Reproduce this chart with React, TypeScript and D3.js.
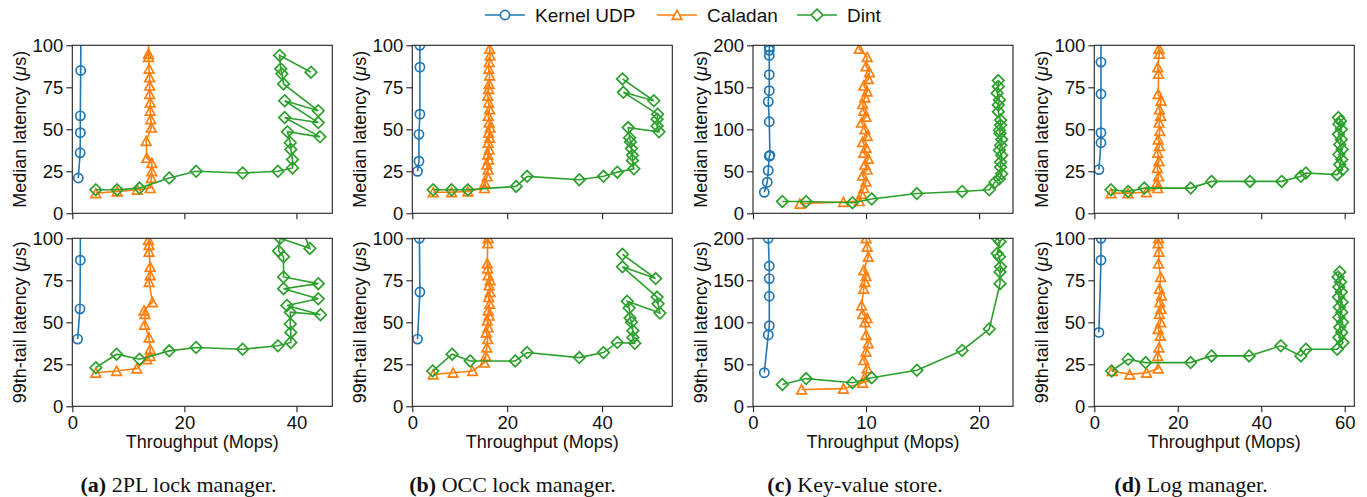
import * as d3 from "d3";
import React, { useRef, useEffect } from "react";

type Pt = [number, number];

// ---- (a) 2PL lock manager ----
const kernelMed2pl: Pt[] = [[1.07, 21], [1.4, 36], [1.43, 48], [1.43, 58], [1.5, 85], [1.55, 130]];
const caladanMed2pl: Pt[] = [[4.2, 12], [8, 13], [11.6, 14], [13.9, 15], [14.1, 21], [14.2, 25], [14.2, 30], [13.3, 33], [13.2, 43], [14.1, 51], [14, 56], [13.9, 61], [13.9, 66], [13.8, 71], [13.8, 76], [13.8, 81], [13.7, 86], [13.6, 93], [13.6, 95], [13.6, 130]];
const dintMed2pl: Pt[] = [[4.2, 14], [8, 14], [12, 15], [17.3, 21], [22.1, 25], [30.4, 24], [36.7, 25], [39.3, 27], [39.3, 32], [39, 38], [38.9, 42], [38.4, 48.5], [44.2, 45.5], [37.9, 57], [43.9, 54], [37.9, 67], [43.9, 61], [37.7, 77], [37.4, 83], [37.2, 86], [37, 94], [42.6, 84]];
const kernelTail2pl: Pt[] = [[0.95, 40], [1.37, 58], [1.43, 87], [1.45, 130]];
const caladanTail2pl: Pt[] = [[4.2, 20], [7.9, 21], [11.5, 22.5], [13.3, 28], [13.9, 30], [13.9, 34], [13.7, 41], [12.9, 48.5], [13, 55], [12.8, 57], [14.3, 62], [13.7, 74], [13.9, 78], [13.9, 83], [13.7, 92], [13.7, 96], [13.6, 99], [13.6, 130]];
const dintTail2pl: Pt[] = [[4.2, 23], [7.9, 31], [12, 28], [17.3, 33], [22.1, 35], [30.4, 34], [36.7, 36], [39, 38], [39, 44], [38.9, 49], [38.9, 56], [44.3, 54.5], [38.3, 60], [43.9, 64], [37.7, 70], [43.9, 73], [37.7, 77], [37.7, 89], [36.8, 92.5], [37.1, 100], [42.4, 94], [38.5, 125]];

// ---- (b) OCC lock manager ----
const kernelMedOcc: Pt[] = [[1.1, 25], [1.4, 31], [1.4, 47], [1.6, 59], [1.6, 87], [1.6, 100], [1.6, 130]];
const caladanMedOcc: Pt[] = [[4.4, 12.5], [8.3, 12.5], [11.7, 13], [15.2, 15], [15.3, 18], [15.8, 22], [16, 26], [15.7, 29], [16.1, 32], [15.9, 35], [16.2, 38], [16, 42], [16.3, 45], [16.1, 48], [16.4, 51], [16.2, 54], [16, 58], [16.3, 62], [16.1, 66], [15.9, 70], [16.1, 74], [16.2, 77], [16.3, 82], [16.1, 86], [16.2, 90], [16.4, 94], [16.3, 98], [16.3, 130]];
const dintMedOcc: Pt[] = [[4.4, 14], [8.3, 14], [11.7, 14], [21.9, 16], [24.2, 22], [35.2, 20], [40.3, 22], [43.2, 24.5], [46.7, 26.5], [46.4, 31.5], [46.4, 34.5], [46.2, 38.5], [46, 42.5], [45.8, 45], [45.5, 51], [52, 48.5], [51.6, 52], [51.6, 56], [51.7, 59], [44.5, 72], [50.9, 67], [44.3, 80]];
const kernelTailOcc: Pt[] = [[1.1, 40], [1.6, 68], [1.5, 100], [1.5, 130]];
const caladanTailOcc: Pt[] = [[4.4, 19], [8.6, 20], [12.7, 21], [15.2, 26], [15.5, 30], [15.7, 35], [15.9, 40], [15.6, 44], [16, 47], [15.8, 51], [16.2, 54], [16, 57], [16.3, 61], [16.1, 65], [16.4, 68], [16.2, 72], [16.4, 75], [16, 78], [15.9, 82], [15.8, 85], [15.9, 97], [16, 100], [16, 130]];
const dintTailOcc: Pt[] = [[4.3, 21], [8.4, 31], [12.2, 27], [21.7, 27], [24.2, 32], [35.2, 29], [40.3, 32], [43.2, 38], [46.9, 37.5], [46.5, 41], [46.5, 45], [46.2, 50], [45.9, 52.5], [45.7, 58.5], [45.3, 62.5], [52.2, 55.5], [51.8, 61], [51.6, 65], [44.3, 83], [51.3, 76], [44.3, 90.5]];

// ---- (c) Key-value store ----
const kernelMedKv: Pt[] = [[1.0, 25], [1.26, 37], [1.35, 51], [1.44, 68], [1.5, 69], [1.44, 109], [1.35, 133], [1.44, 146], [1.44, 165], [1.44, 188], [1.44, 194], [1.44, 198], [1.44, 260]];
const caladanMedKv: Pt[] = [[4.15, 11.5], [8, 13.5], [9.4, 14.5], [9.6, 23], [9.8, 30], [10, 38], [9.7, 45], [10.1, 52], [9.9, 58], [10.2, 65], [9.8, 72], [10, 78], [9.7, 85], [10.1, 92], [9.9, 100], [9.6, 108], [10, 115], [9.8, 122], [9.7, 130], [9.9, 138], [10.1, 145], [9.8, 152], [10.2, 160], [10.3, 168], [10, 175], [10.1, 186], [9.4, 196], [9.4, 260]];
const dintMedKv: Pt[] = [[2.6, 14], [4.7, 14], [8.8, 12.5], [10.5, 17], [14.5, 23.5], [18.5, 26], [20.9, 28], [21.4, 37], [21.8, 41], [22, 47], [21.9, 55], [21.9, 61], [22, 69], [21.8, 75], [21.9, 81], [22, 88], [21.85, 95], [21.8, 99], [21.9, 105], [21.9, 111], [21.7, 121], [21.7, 129], [21.8, 135], [21.6, 143], [21.7, 151], [21.7, 158]];
const kernelTailKv: Pt[] = [[1.0, 40], [1.35, 85], [1.44, 96], [1.44, 131], [1.44, 152], [1.44, 167], [1.35, 200], [1.35, 260]];
const caladanTailKv: Pt[] = [[4.3, 20], [8, 21], [9.7, 28], [9.9, 35], [10.1, 45], [9.8, 55], [10, 65], [10.2, 75], [10, 85], [9.9, 100], [10.1, 105], [9.7, 110], [9.6, 120], [9.8, 140], [9.9, 148], [10, 155], [9.8, 162], [10.2, 178], [10.1, 190], [10, 200], [10, 260]];
const dintTailKv: Pt[] = [[2.6, 26], [4.7, 33], [8.8, 28], [10.5, 34], [14.5, 43], [18.5, 66.5], [20.9, 92], [21.85, 146], [21.85, 160], [21.9, 166], [21.8, 178], [21.6, 182], [21.85, 196], [21.6, 200], [21.7, 260]];

// ---- (d) Log manager ----
const kernelMedLog: Pt[] = [[1.1, 26], [1.6, 42], [1.6, 48], [1.6, 71], [1.6, 90], [1.6, 130]];
const caladanMedLog: Pt[] = [[4, 12], [8.1, 12], [12.5, 12.5], [15.2, 15], [15, 18], [15.4, 22], [15.1, 27], [15.5, 31], [15.2, 36], [15.6, 40], [15.3, 44], [15.7, 49], [15.5, 54], [15.9, 58], [15.6, 62], [16, 67], [15.3, 71], [15.4, 83], [15.2, 87], [15.6, 95], [15.5, 98], [15.5, 130]];
const dintMedLog: Pt[] = [[4, 14], [8.1, 13], [12, 15], [23.1, 15], [28.1, 19], [37.3, 19], [44.9, 19], [49.5, 22], [50.7, 24], [58.2, 23], [59.5, 26], [58.8, 29], [59.3, 32], [58.6, 35], [59.4, 38], [58.8, 41], [59.2, 44], [58.5, 47], [59.2, 50], [58.6, 53], [59, 55], [58.5, 57]];
const kernelTailLog: Pt[] = [[1.1, 44], [1.6, 87], [1.6, 100], [1.6, 130]];
const caladanTailLog: Pt[] = [[4.3, 21], [8.5, 19], [12.5, 20], [15.3, 22.5], [15.2, 30], [15.5, 35], [15.8, 42], [15.3, 46], [15.9, 50], [15.6, 55], [16, 58], [15.7, 62], [16.1, 66], [15.6, 70], [15.9, 77], [15.4, 85], [15.5, 92], [15.3, 97], [15.4, 100], [15.4, 130]];
const dintTailLog: Pt[] = [[4.15, 21], [8.1, 28], [12.3, 26], [23.1, 26], [28.1, 30], [37.1, 30], [44.7, 36], [49.5, 30], [50.7, 34], [58.2, 34], [59.6, 38], [58.6, 41], [59.3, 44], [58.8, 47], [59.5, 50], [58.6, 53], [59.3, 56], [58.7, 59], [59.4, 62], [58.5, 65], [59.2, 68], [58.6, 71], [59, 74], [58.4, 77], [58.8, 80]];

const seriesNames = ["Kernel UDP", "Caladan", "Dint"];
const seriesColors = ["#1f77b4", "#ff7f0e", "#2ca02c"];

const panelData: Pt[][][][] = [
  [[kernelMed2pl, caladanMed2pl, dintMed2pl], [kernelTail2pl, caladanTail2pl, dintTail2pl]],
  [[kernelMedOcc, caladanMedOcc, dintMedOcc], [kernelTailOcc, caladanTailOcc, dintTailOcc]],
  [[kernelMedKv, caladanMedKv, dintMedKv], [kernelTailKv, caladanTailKv, dintTailKv]],
  [[kernelMedLog, caladanMedLog, dintMedLog], [kernelTailLog, caladanTailLog, dintTailLog]],
];

const xMaxes = [46.4, 54.8, 23, 62.3];
const xTickVals = [[0, 20, 40], [0, 20, 40], [0, 10, 20], [0, 20, 40, 60]];
const yMaxes = [100, 100, 200, 100];
const yTickVals = [[0, 25, 50, 75, 100], [0, 25, 50, 75, 100], [0, 50, 100, 150, 200], [0, 25, 50, 75, 100]];
const rowLabels = ["Median latency (", "99th-tail latency ("];
const captionTags = ["(a)", "(b)", "(c)", "(d)"];
const captionTexts = [" 2PL lock manager.", " OCC lock manager.", " Key-value store.", " Log manager."];

// layout
const W = 1367;
const H = 497;
const panelCols = [72.3, 412.3, 753, 1094.3];
const captionX = [178.5, 512.5, 855, 1191];
const rowTops = [45.3, 238.3];
const plotW = 260;
const plotH = 168;
const FONT = "'Liberation Sans', Arial, sans-serif";
const SERIF = "'Liberation Serif', 'Times New Roman', serif";

const markerPaths = [
  d3.symbol().type(d3.symbolCircle).size(Math.PI * 4.6 * 4.6)(),
  "M0,-4.6L4.8,4.4L-4.8,4.4Z",
  "M0,-5.8L5.8,0L0,5.8L-5.8,0Z",
];

export default function App() {
  const ref = useRef<SVGSVGElement>(null);

  useEffect(() => {
    const svg = d3.select(ref.current);
    svg.selectAll("*").remove();
    svg.append("rect").attr("width", W).attr("height", H).attr("fill", "white");

    const defs = svg.append("defs");

    panelCols.forEach((x0, p) => {
      const x = d3.scaleLinear().domain([0, xMaxes[p]]).range([x0, x0 + plotW]);

      rowTops.forEach((top, r) => {
        const y = d3.scaleLinear().domain([0, yMaxes[p]]).range([top + plotH, top]);
        const g = svg.append("g");
        const clipId = `clip-${p}-${r}`;
        defs
          .append("clipPath")
          .attr("id", clipId)
          .append("rect")
          .attr("x", x0)
          .attr("y", top)
          .attr("width", plotW)
          .attr("height", plotH);

        // series
        const plot = g.append("g").attr("clip-path", `url(#${clipId})`);
        const line = d3
          .line<Pt>()
          .x(d => x(d[0]))
          .y(d => y(d[1]));
        panelData[p][r].forEach((pts, s) => {
          plot
            .append("path")
            .datum(pts)
            .attr("d", line)
            .attr("fill", "none")
            .attr("stroke", seriesColors[s])
            .attr("stroke-width", 1.6);
          plot
            .append("g")
            .selectAll("path")
            .data(pts)
            .enter()
            .append("path")
            .attr("d", markerPaths[s])
            .attr("transform", d => `translate(${x(d[0])},${y(d[1])})`)
            .attr("fill", "none")
            .attr("stroke", seriesColors[s])
            .attr("stroke-width", 1.7);
        });

        // axes
        const yAxis = d3
          .axisLeft(y)
          .tickValues(yTickVals[p])
          .tickSize(6)
          .tickPadding(3)
          .tickFormat(d3.format("d"));
        g.append("g").attr("transform", `translate(${x0},0)`).call(yAxis);

        const xAxis = d3
          .axisBottom(x)
          .tickValues(xTickVals[p])
          .tickSize(6)
          .tickPadding(4)
          .tickFormat(r === 0 ? () => "" : d3.format("d"));
        g.append("g").attr("transform", `translate(0,${top + plotH})`).call(xAxis);

        g.selectAll(".domain").remove();
        g.selectAll(".tick line").attr("stroke", "#222").attr("stroke-width", 1.1);
        g.selectAll(".tick text")
          .attr("font-size", 18.5)
          .attr("font-family", FONT)
          .attr("fill", "#111");

        // frame
        g.append("rect")
          .attr("x", x0)
          .attr("y", top)
          .attr("width", plotW)
          .attr("height", plotH)
          .attr("fill", "none")
          .attr("stroke", "#222")
          .attr("stroke-width", 1.1);

        // y label
        const yl = g
          .append("text")
          .attr("transform", `translate(${x0 - 46},${top + plotH / 2}) rotate(-90)`)
          .attr("text-anchor", "middle")
          .attr("font-family", FONT)
          .attr("font-size", 18)
          .attr("fill", "#111");
        yl.append("tspan").text(rowLabels[r]);
        yl.append("tspan").attr("font-style", "italic").text("μ");
        yl.append("tspan").text("s)");

        if (r === 1) {
          g.append("text")
            .attr("x", x0 + plotW / 2)
            .attr("y", 448)
            .attr("text-anchor", "middle")
            .attr("font-family", FONT)
            .attr("font-size", 18)
            .attr("fill", "#111")
            .text("Throughput (Mops)");
        }
      });

      // caption
      const cap = svg
        .append("text")
        .attr("x", captionX[p])
        .attr("y", 492)
        .attr("text-anchor", "middle")
        .attr("font-family", SERIF)
        .attr("font-size", 22)
        .attr("fill", "#111");
      cap.append("tspan").attr("font-weight", "bold").text(captionTags[p]);
      cap.append("tspan").text(captionTexts[p]);
    });

    // legend
    const legendX = [485, 657, 797];
    const legend = svg.append("g");
    seriesNames.forEach((name, s) => {
      const lx = legendX[s];
      legend
        .append("line")
        .attr("x1", lx)
        .attr("x2", lx + 40)
        .attr("y1", 15)
        .attr("y2", 15)
        .attr("stroke", seriesColors[s])
        .attr("stroke-width", 1.6);
      legend
        .append("path")
        .attr("d", markerPaths[s])
        .attr("transform", `translate(${lx + 20},15)`)
        .attr("fill", "white")
        .attr("stroke", seriesColors[s])
        .attr("stroke-width", 1.7);
      legend
        .append("text")
        .attr("x", lx + 50)
        .attr("y", 21.5)
        .attr("font-family", FONT)
        .attr("font-size", 19)
        .attr("fill", "#111")
        .text(name);
    });
  }, []);

  return (
    <div>
      <svg
        ref={ref}
        width={W}
        height={H}
        style={{ position: "absolute", left: 0, top: 0 }}
      ></svg>
    </div>
  );
}
